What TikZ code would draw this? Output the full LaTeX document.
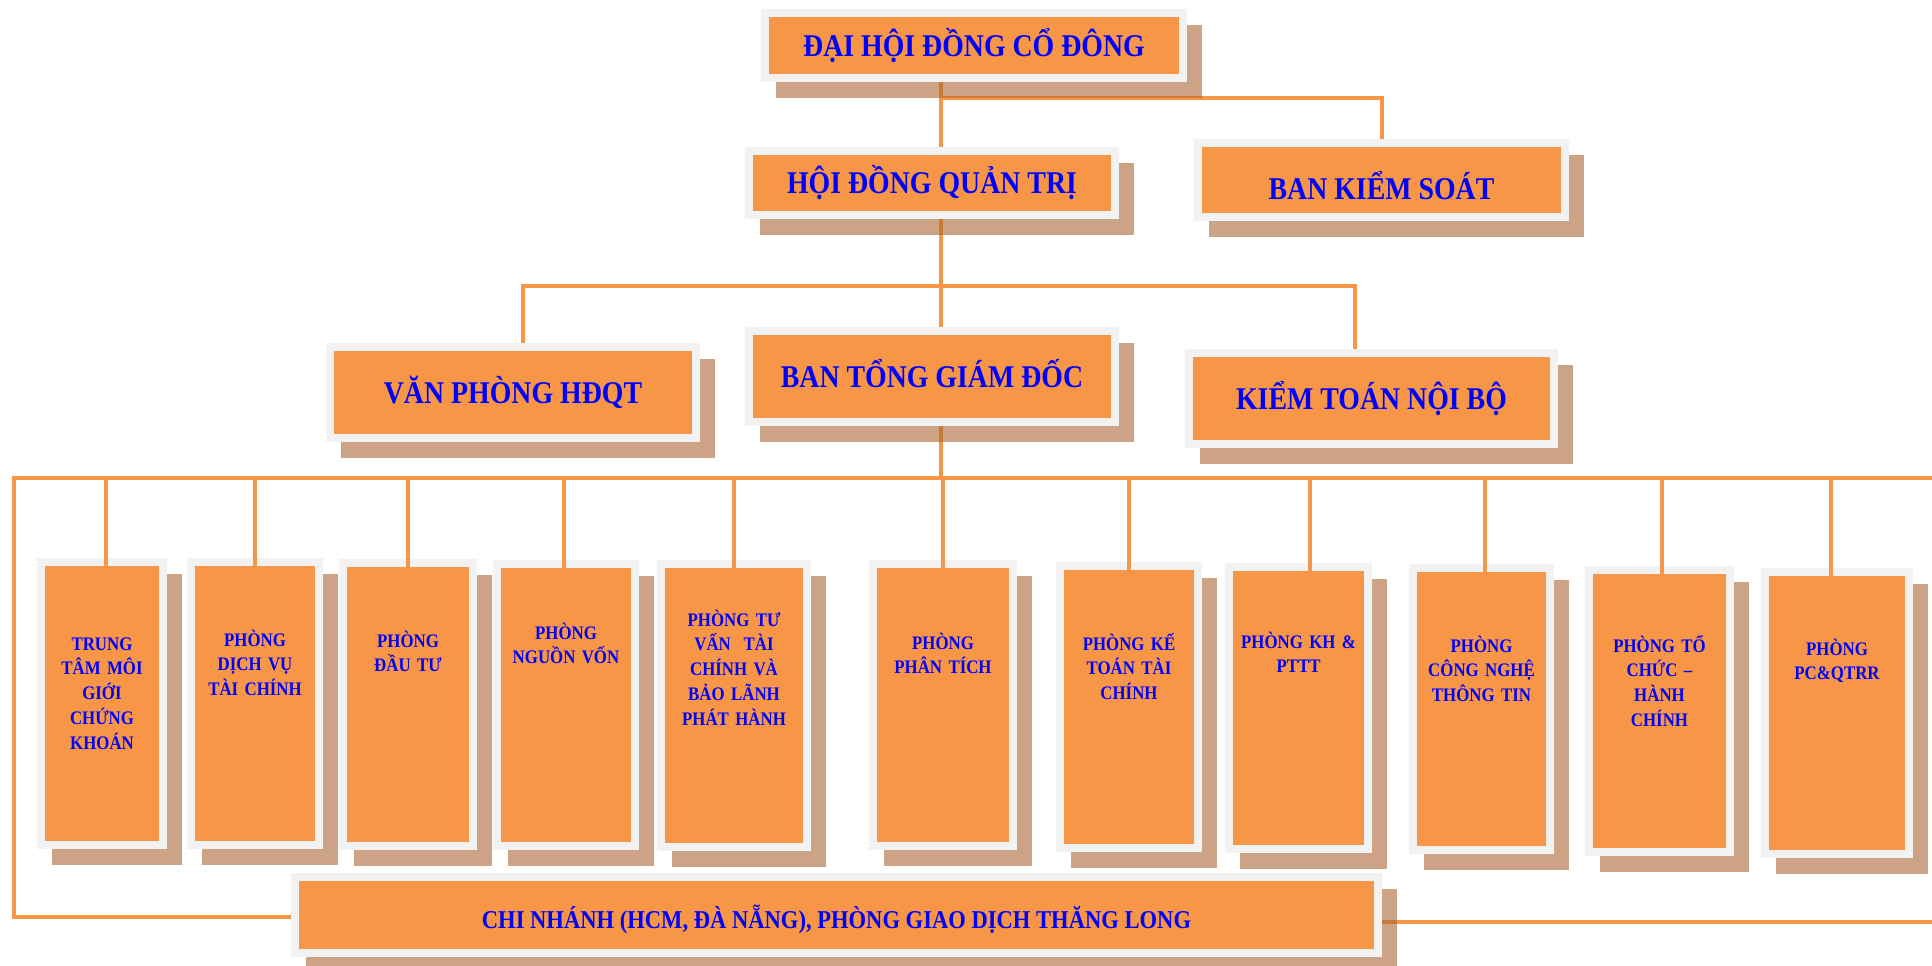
\documentclass[tikz,border=0pt]{standalone}
\usepackage{fontspec}
\setmainfont{Liberation Serif}[FakeStretch=0.88]
\usetikzlibrary{backgrounds}

\definecolor{boxorange}{HTML}{F79646}
\definecolor{framegray}{HTML}{F2F2F2}
\definecolor{shadowbrown}{RGB}{170,102,50}
\definecolor{textblue}{HTML}{0000FF}

\tikzset{
  box/.style={fill=boxorange, draw=framegray, line width=0.16cm, inner sep=0pt,
    text=textblue, font=\fontsize{18}{20}\selectfont\bfseries,
    text height=0.42cm, text depth=0cm},
  dept/.style={box, minimum height=5.66cm},
  depttext/.style={anchor=base, text width=2.6cm, align=center, inner sep=0pt,
    text=textblue, font=\fontsize{10.9}{14.2}\selectfont\bfseries},
  wire/.style={draw=boxorange, line width=0.08cm},
  boxshadow/.style={fill=shadowbrown, fill opacity=0.6}
}

\begin{document}
\begin{tikzpicture}[x=0.02cm, y=-0.02cm]
  \useasboundingbox (0,0) rectangle (1932,965);

  % management
  \node[box, minimum width=8.36cm, minimum height=1.3cm] (dhdcd) at (974,45.5) {ĐẠI HỘI ĐỒNG CỔ ĐÔNG};
  \node[box, minimum width=7.32cm, minimum height=1.28cm] (hdqt) at (932,183) {HỘI ĐỒNG QUẢN TRỊ};
  \node[box, minimum width=7.34cm, minimum height=1.48cm, text height=0.76cm] (bks) at (1381.5,180) {BAN KIỂM SOÁT};
  \node[box, minimum width=7.32cm, minimum height=1.82cm] (vphdqt) at (513,392.5) {VĂN PHÒNG HĐQT};
  \node[box, minimum width=7.32cm, minimum height=1.82cm] (btgd) at (932,376.5) {BAN TỔNG GIÁM ĐỐC};
  \node[box, minimum width=7.30cm, minimum height=1.82cm] (ktnb) at (1371.5,398.5) {KIỂM TOÁN NỘI BỘ};

  % departments
  \node[dept, minimum width=2.44cm] (mgck) at (102,703.5) {};
  \node[dept, minimum width=2.56cm] (dvtc) at (255,703.5) {};
  \node[dept, minimum width=2.60cm] (dautu) at (408,704.5) {};
  \node[dept, minimum width=2.76cm] (nguonvon) at (566,705) {};
  \node[dept, minimum width=2.92cm] (tuvan) at (734,705.5) {};
  \node[dept, minimum width=2.80cm] (phantich) at (943,705) {};
  \node[dept, minimum width=2.76cm] (ketoan) at (1129,707) {};
  \node[dept, minimum width=2.78cm] (khpttt) at (1298.5,708) {};
  \node[dept, minimum width=2.74cm] (cntt) at (1481.5,709) {};
  \node[dept, minimum width=2.82cm] (tchc) at (1659.5,711) {};
  \node[dept, minimum width=2.88cm] (pcqtrr) at (1837,713) {};

  \node[depttext] (mgck-t) at (102,650) {TRUNG\\TÂM MÔI\\GIỚI\\CHỨNG\\KHOÁN};
  \node[depttext] (dvtc-t) at (255,646) {PHÒNG\\DỊCH VỤ\\TÀI CHÍNH};
  \node[depttext] (dautu-t) at (408,647) {PHÒNG\\ĐẦU TƯ};
  \node[depttext] (nguonvon-t) at (566,639) {PHÒNG\\NGUỒN VỐN};
  \node[depttext] (tuvan-t) at (734,626) {PHÒNG TƯ\\VẤN~~TÀI\\CHÍNH VÀ\\BẢO LÃNH\\PHÁT HÀNH};
  \node[depttext] (phantich-t) at (943,649) {PHÒNG\\PHÂN TÍCH};
  \node[depttext] (ketoan-t) at (1129,650) {PHÒNG KẾ\\TOÁN TÀI\\CHÍNH};
  \node[depttext] (khpttt-t) at (1298.5,648) {PHÒNG KH \&\\PTTT};
  \node[depttext] (cntt-t) at (1481.5,652) {PHÒNG\\CÔNG NGHỆ\\THÔNG TIN};
  \node[depttext] (tchc-t) at (1659.5,652) {PHÒNG TỔ\\CHỨC –\\HÀNH\\CHÍNH};
  \node[depttext] (pcqtrr-t) at (1837,655) {PHÒNG\\PC\&QTRR};

  % branches
  \node[box, minimum width=21.66cm, minimum height=1.52cm, font=\fontsize{14.6}{16}\selectfont\bfseries,
    text height=0.52cm] (cn) at (836.5,915) {CHI NHÁNH (HCM, ĐÀ NẴNG), PHÒNG GIAO DỊCH THĂNG LONG};

  \coordinate (topfork) at (941,98);
  \coordinate (vpknee) at (523,286);
  \coordinate (ktknee) at (1355,286);
  \coordinate (trunk) at (941,478);
  \coordinate (busL) at (14,478);
  \coordinate (busR) at (1932,478);
  \coordinate (cnL) at (14,917);
  \coordinate (cnR) at (1932,922);

  \begin{scope}[on background layer]
    \draw[wire] (trunk |- dhdcd.south) -- (trunk);
    \draw[wire] (topfork) -| (bks.north);
    \draw[wire] (vpknee |- vphdqt.north) -- (vpknee) -- (ktknee) -- (ktknee |- ktnb.north);
    \draw[wire] (busR) -- (busL) -- (cnL) -- (cnL -| cn.west);
    \draw[wire] (cnR -| cn.east) -- (cnR);
    \foreach \b in {dhdcd,hdqt,bks,vphdqt,btgd,ktnb,mgck,dvtc,dautu,nguonvon,tuvan,
                    phantich,ketoan,khpttt,cntt,tchc,pcqtrr,cn}
      \fill[boxshadow] ([shift={(15,16)}]\b.south west) rectangle ([shift={(15,16)}]\b.north east);
  \end{scope}

  \draw[wire] ([xshift=0.08cm]mgck.north |- busL) -- ([xshift=0.08cm,yshift=-0.16cm]mgck.north);
  \draw[wire] (dvtc.north |- busL) -- ([yshift=-0.16cm]dvtc.north);
  \draw[wire] (dautu.north |- busL) -- ([yshift=-0.16cm]dautu.north);
  \draw[wire] ([xshift=-0.04cm]nguonvon.north |- busL) -- ([xshift=-0.04cm,yshift=-0.16cm]nguonvon.north);
  \draw[wire] (tuvan.north |- busL) -- ([yshift=-0.16cm]tuvan.north);
  \draw[wire] (phantich.north |- busL) -- ([yshift=-0.16cm]phantich.north);
  \draw[wire] (ketoan.north |- busL) -- ([yshift=-0.16cm]ketoan.north);
  \draw[wire] ([xshift=0.23cm]khpttt.north |- busL) -- ([xshift=0.23cm,yshift=-0.16cm]khpttt.north);
  \draw[wire] ([xshift=0.07cm]cntt.north |- busL) -- ([xshift=0.07cm,yshift=-0.16cm]cntt.north);
  \draw[wire] ([xshift=0.05cm]tchc.north |- busL) -- ([xshift=0.05cm,yshift=-0.16cm]tchc.north);
  \draw[wire] ([xshift=-0.12cm]pcqtrr.north |- busL) -- ([xshift=-0.12cm,yshift=-0.16cm]pcqtrr.north);

\end{tikzpicture}
\end{document}
